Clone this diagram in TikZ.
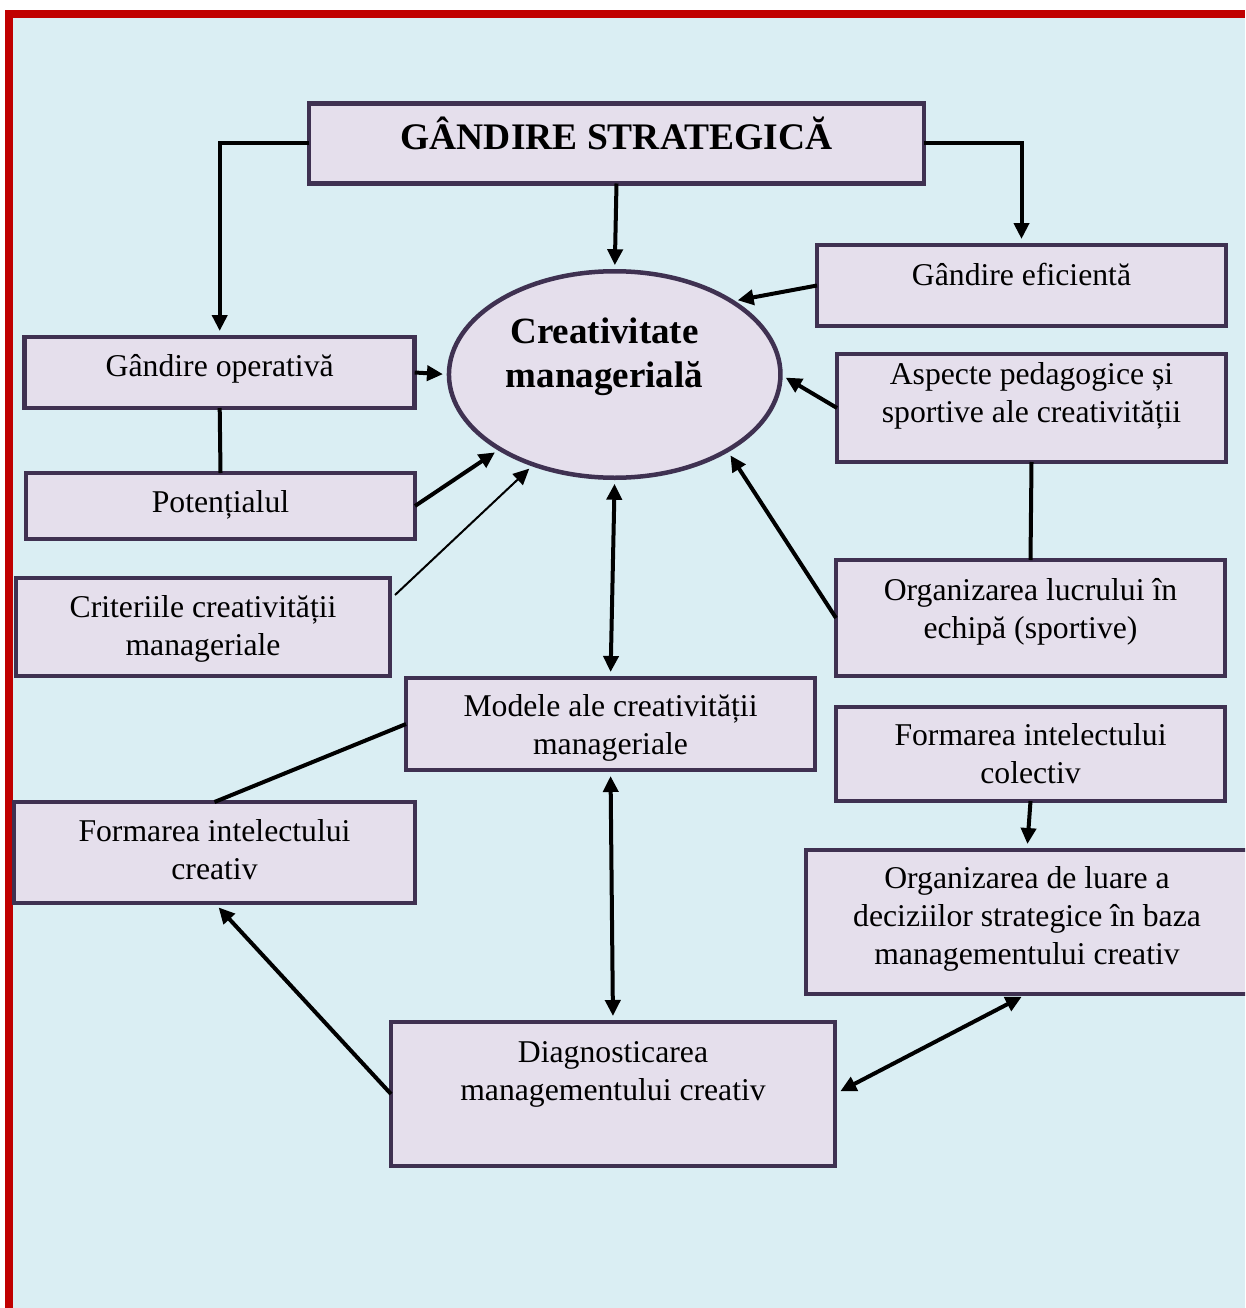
\documentclass[tikz,border=0pt]{standalone}
\usepackage{fontspec}
\setmainfont{Liberation Serif}
\usetikzlibrary{arrows.meta,shapes.geometric,calc}
\definecolor{bgblue}{HTML}{DAEEF3}
\definecolor{boxfill}{HTML}{E5DFEC}
\definecolor{boxline}{HTML}{3F3151}
\definecolor{framered}{HTML}{C00000}
\begin{document}
\begin{tikzpicture}[x=1pt,y=-1pt,
 box/.style={draw=boxline,fill=boxfill,line width=4.5pt,rectangle,inner sep=0pt,outer sep=0pt},
 ell/.style={draw=boxline,fill=boxfill,line width=4.5pt,ellipse,inner sep=0pt,outer sep=0pt},
 txt/.style={font=\fontsize{31.7}{38}\selectfont,align=center,anchor=base,inner sep=0pt},
 btxt/.style={font=\fontsize{37.5}{44}\selectfont\bfseries,align=center,anchor=base,inner sep=0pt},
 conn/.style={line width=4pt,black},
 thinconn/.style={line width=2pt,black},
 arr/.style={-{Triangle[length=16pt,width=15pt]},shorten >=6pt},
 darr/.style={{Triangle[length=16pt,width=15pt]}-{Triangle[length=16pt,width=15pt]},shorten >=6pt,shorten <=6pt},
 ]
\useasboundingbox (0,0) rectangle (1245,1308);
\clip (0,0) rectangle (1245,1308);
\fill[white] (0,0) rectangle (1245,1308);
\fill[bgblue] (12,18) rectangle (1245,1308);
\fill[framered] (4.5,10) rectangle (1245,18);
\fill[framered] (4.5,10) rectangle (12.5,1308);

% boxes
\node[box,minimum width=615pt,minimum height=80pt] (GS) at (616.5,143.5) {};
\node[box,minimum width=409pt,minimum height=81pt] (GE) at (1021.5,285.5) {};
\node[box,minimum width=390pt,minimum height=71pt] (GO) at (219.7,372.5) {};
\node[box,minimum width=389pt,minimum height=108pt] (Asp) at (1031.5,408) {};
\node[box,minimum width=389pt,minimum height=66pt] (Pot) at (220.5,506) {};
\node[box,minimum width=374pt,minimum height=98pt] (Crit) at (203,627) {};
\node[box,minimum width=389pt,minimum height=116pt] (Org) at (1030.5,618) {};
\node[box,minimum width=409pt,minimum height=92pt] (Mod) at (610.5,724) {};
\node[box,minimum width=389pt,minimum height=94pt] (Fcol) at (1030.5,754) {};
\node[box,minimum width=401pt,minimum height=101pt] (FC) at (214.5,852.5) {};
\node[box,minimum width=442pt,minimum height=144pt] (Odec) at (1027,922) {};
\node[box,minimum width=444pt,minimum height=144pt] (Diag) at (613,1094) {};
\node[ell,minimum width=331.5pt,minimum height=206.5pt] (CM) at (614.7,374.5) {};

% texts (anchor = baseline of the last line)
\node[btxt] (tGS) at (616.5,150) {GÂNDIRE STRATEGICĂ};
\node[txt] (tGE) at (1021.5,285) {Gândire eficientă};
\node[btxt,font=\fontsize{37}{44}\selectfont\bfseries] (tCM) at (604.5,387) {Creativitate\\managerială};
\node[txt] (tGO) at (219.7,376) {Gândire operativă};
\node[txt] (tAsp) at (1031.5,422) {Aspecte pedagogice și\\sportive ale creativității};
\node[txt] (tPot) at (220.5,512) {Potențialul};
\node[txt] (tCrit) at (203,655) {Criteriile creativității\\manageriale};
\node[txt] (tOrg) at (1030.5,638) {Organizarea lucrului în\\echipă (sportive)};
\node[txt] (tMod) at (610.5,754) {Modele ale creativității\\manageriale};
\node[txt] (tFcol) at (1030.5,783) {Formarea intelectului\\colectiv};
\node[txt] (tFC) at (214.5,879) {Formarea intelectului\\creativ};
\node[txt] (tOdec) at (1027,964) {Organizarea de luare a\\deciziilor strategice în baza\\managementului creativ};
\node[txt] (tDiag) at (613,1100) {Diagnosticarea\\managementului creativ};

% connectors
\draw[conn,arr] (GS.west) -| (GO.north);
\draw[conn,arr] (GS.east) -| (GE.north);
\draw[conn,arr] (GS.south) -- (CM.north);
\draw[conn,arr] (GE.west) -- (CM.32);
\draw[conn,arr] (GO.east) -- (CM.west);
\draw[conn] (GO.south) -- (Pot.north);
\draw[conn,arr] (Pot.east) -- (CM.213);
\draw[thinconn,arr] ($(Crit.north east)+(5,17)$) -- (CM.228);
\draw[conn,arr] (Asp.west) -- (CM.east);
\draw[conn] (Asp.south) -- (Org.north);
\draw[conn,arr] (Org.west) -- (CM.-34);
\draw[conn,darr] (CM.south) -- (Mod.north);
\draw[conn] (Mod.west) -- (FC.north);
\draw[conn,darr] (Mod.south) -- (Diag.north);
\draw[conn,arr] (Fcol.south) -- (Odec.north);
\draw[conn,darr] (Odec.south) -- (Diag.east);
\draw[conn,arr] (Diag.west) -- (FC.south);
\end{tikzpicture}
\end{document}
